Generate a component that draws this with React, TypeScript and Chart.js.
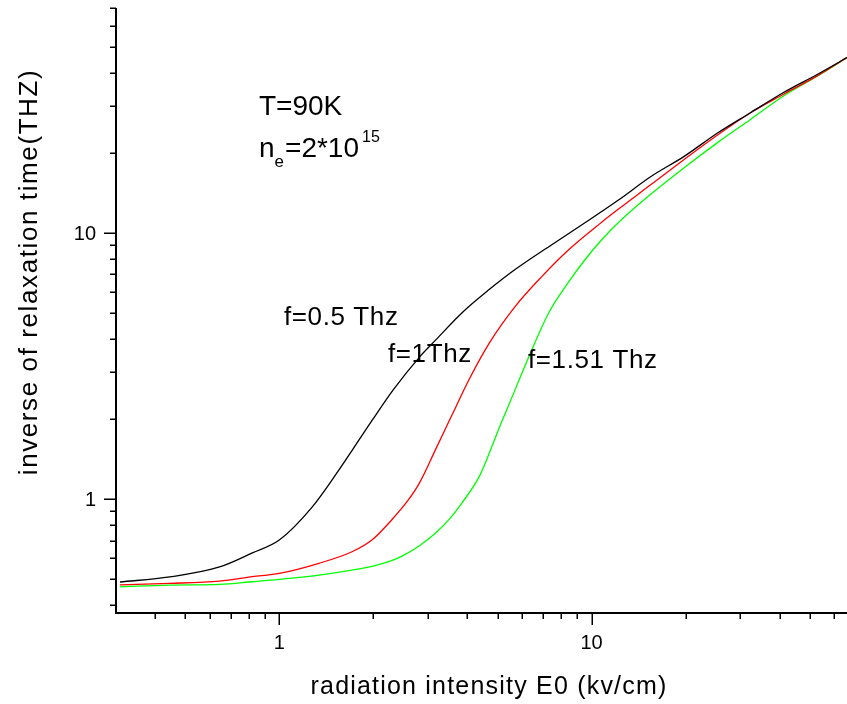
import React, { useEffect, useRef } from "react";
import { Chart, registerables } from "chart.js";
Chart.register(...registerables);

// ---- axis ranges & ticks ----
const X_MIN = 0.309;
const X_MAX = 65.8;
const Y_MIN = 0.374;
const Y_MAX = 70;
const X_MAJOR = [1, 10];
const X_MAJOR_LABELS = ["1", "10"];
const X_MINOR = [0.4, 0.5, 0.6, 0.7, 0.8, 0.9, 2, 3, 4, 5, 6, 7, 8, 9, 20, 30, 40, 50, 60];
const Y_MAJOR = [1, 10];
const Y_MAJOR_LABELS = ["1", "10"];
const Y_MINOR = [0.4, 0.5, 0.6, 0.7, 0.8, 0.9, 2, 3, 4, 5, 6, 7, 8, 9, 20, 30, 40, 50, 60, 70];

// ---- series: f = 0.5 THz (black) ----
const E_05 = [0.309, 0.446, 0.644, 0.82, 1, 1.274, 1.553, 1.72, 1.99, 2.32, 2.83, 3.16, 3.85, 4.7, 5.69, 7.46, 9.5, 12.2, 15.5, 19.8, 25.4, 32.3, 41.2, 52.8, 65.8];
const R_05 = [0.489, 0.511, 0.557, 0.629, 0.703, 0.935, 1.289, 1.54, 1.99, 2.58, 3.45, 3.95, 5.02, 6.13, 7.29, 9.04, 10.9, 13.3, 16.3, 19.4, 23.8, 28.3, 33.7, 39.4, 45.6];

// ---- series: f = 1 THz (red) ----
const E_1 = [0.309, 0.446, 0.644, 0.82, 1, 1.34, 1.71, 1.98, 2.29, 2.59, 2.81, 3.16, 3.58, 4.05, 4.7, 5.69, 6.93, 8.45, 10.8, 12.2, 15.5, 19.8, 25.4, 32.3, 41.2, 52.8, 65.8];
const R_1 = [0.477, 0.483, 0.493, 0.512, 0.527, 0.575, 0.635, 0.703, 0.836, 0.994, 1.15, 1.53, 2.08, 2.81, 3.85, 5.29, 6.86, 8.65, 11.0, 12.3, 15.2, 18.9, 23.4, 28.3, 33.2, 38.9, 45.6];

// ---- series: f = 1.51 THz (green) ----
const E_151 = [0.309, 0.446, 0.644, 0.82, 1, 1.34, 1.71, 1.98, 2.29, 2.48, 2.79, 3.16, 3.5, 3.85, 4.39, 4.84, 5.17, 5.44, 6.3, 7.29, 8.45, 9.5, 10.8, 12.2, 15.5, 19.8, 25.4, 32.3, 41.2, 52.8, 65.8];
const R_151 = [0.469, 0.476, 0.479, 0.49, 0.5, 0.519, 0.542, 0.56, 0.588, 0.613, 0.665, 0.745, 0.84, 0.97, 1.23, 1.62, 1.97, 2.27, 3.43, 5.01, 6.55, 7.9, 9.45, 10.95, 14.0, 17.6, 21.9, 26.7, 32.7, 38.8, 45.6];

const X_TITLE = "radiation intensity E0 (kv/cm)";
const Y_TITLE = "inverse of relaxation time(THZ)";
const LABEL_05 = "f=0.5 Thz";
const LABEL_1 = "f=1Thz";
const LABEL_151 = "f=1.51 Thz";
const LABEL_T = "T=90K";

const FONT = "'Liberation Sans', Arial, Helvetica, sans-serif";

function pts(xs: number[], ys: number[]) {
  return xs.map((x, i) => ({ x, y: ys[i] }));
}

function setSpacing(ctx: any, px: number) {
  try {
    ctx.letterSpacing = px + "px";
  } catch (e) {}
}

const decorPlugin = {
  id: "decor",
  afterDraw(chart: any) {
    const { ctx, chartArea: a } = chart;
    const xs = chart.scales.x;
    const ys = chart.scales.y;
    ctx.save();
    ctx.strokeStyle = "#000";
    ctx.fillStyle = "#000";

    // axis lines
    ctx.lineWidth = 2;
    ctx.beginPath();
    ctx.moveTo(a.left, a.top);
    ctx.lineTo(a.left, a.bottom);
    ctx.lineTo(a.right, a.bottom);
    ctx.stroke();

    // ticks
    ctx.lineWidth = 1.5;
    ctx.beginPath();
    X_MAJOR.forEach((v) => {
      const p = Math.round(xs.getPixelForValue(v)) + 0.25;
      ctx.moveTo(p, a.bottom);
      ctx.lineTo(p, a.bottom + 12);
    });
    X_MINOR.forEach((v) => {
      const p = Math.round(xs.getPixelForValue(v)) + 0.25;
      ctx.moveTo(p, a.bottom);
      ctx.lineTo(p, a.bottom + 6);
    });
    Y_MAJOR.forEach((v) => {
      const p = Math.round(ys.getPixelForValue(v)) + 0.25;
      ctx.moveTo(a.left, p);
      ctx.lineTo(a.left - 12, p);
    });
    Y_MINOR.forEach((v) => {
      const p = Math.round(ys.getPixelForValue(v)) + 0.25;
      ctx.moveTo(a.left, p);
      ctx.lineTo(a.left - 6, p);
    });
    ctx.stroke();

    // tick labels
    ctx.font = "20px " + FONT;
    ctx.textAlign = "center";
    ctx.textBaseline = "alphabetic";
    X_MAJOR.forEach((v, i) => {
      ctx.fillText(X_MAJOR_LABELS[i], xs.getPixelForValue(v), a.bottom + 36);
    });
    ctx.textAlign = "right";
    ctx.textBaseline = "middle";
    Y_MAJOR.forEach((v, i) => {
      ctx.fillText(Y_MAJOR_LABELS[i], a.left - 20, ys.getPixelForValue(v) + 1);
    });

    // axis titles
    ctx.textBaseline = "alphabetic";
    ctx.textAlign = "center";
    ctx.font = "25px " + FONT;
    setSpacing(ctx, 1.2);
    ctx.fillText(X_TITLE, 489, 694);
    ctx.save();
    ctx.translate(37, 272);
    ctx.rotate(-Math.PI / 2);
    setSpacing(ctx, 1.6);
    ctx.font = "26px " + FONT;
    ctx.fillText(Y_TITLE, 0, 0);
    ctx.restore();

    // annotations
    setSpacing(ctx, 0);
    ctx.textAlign = "left";
    ctx.font = "28px " + FONT;
    ctx.fillText(LABEL_T, 259, 115);
    // n_e = 2*10^15
    let x = 259;
    ctx.fillText("n", x, 157);
    x += ctx.measureText("n").width;
    ctx.font = "17px " + FONT;
    ctx.fillText("e", x, 167);
    x += ctx.measureText("e").width + 1;
    ctx.font = "28px " + FONT;
    ctx.fillText("=2*10", x, 157);
    x += ctx.measureText("=2*10").width + 3;
    ctx.font = "16px " + FONT;
    ctx.fillText("15", x, 142);

    ctx.font = "26px " + FONT;
    setSpacing(ctx, 0.6);
    ctx.fillText(LABEL_05, 284, 325);
    ctx.fillText(LABEL_1, 388, 362);
    ctx.fillText(LABEL_151, 528, 368);
    ctx.restore();
  },
};

export default function App() {
  const ref = useRef<HTMLCanvasElement>(null);
  useEffect(() => {
    if (!ref.current) return;
    const mk = (label: string, xs: number[], ys: number[], color: string) => ({
      label,
      data: pts(xs, ys),
      borderColor: color,
      borderWidth: 1.3,
      pointRadius: 0,
      cubicInterpolationMode: "monotone",
      fill: false,
    });
    const chart = new Chart(ref.current, {
      type: "line",
      data: {
        datasets: [
          mk(LABEL_05, E_05, R_05, "#000000"),
          mk(LABEL_1, E_1, R_1, "#ff0000"),
          mk(LABEL_151, E_151, R_151, "#00ff00"),
        ] as any,
      },
      options: {
        responsive: false,
        animation: false,
        events: [],
        layout: { padding: { left: 116, top: 8, right: 0, bottom: 91 } },
        plugins: { legend: { display: false }, tooltip: { enabled: false }, title: { display: false } },
        scales: {
          x: { type: "logarithmic", min: X_MIN, max: X_MAX, display: false },
          y: { type: "logarithmic", min: Y_MIN, max: Y_MAX, display: false },
        },
        elements: { point: { radius: 0 } },
      } as any,
      plugins: [decorPlugin],
    });
    return () => chart.destroy();
  }, []);
  return (
    <div style={{ position: "absolute", left: 0, top: 0, width: 847, height: 704, background: "#fff" }}>
      <canvas ref={ref} width={847} height={704} style={{ display: "block" }} />
    </div>
  );
}
